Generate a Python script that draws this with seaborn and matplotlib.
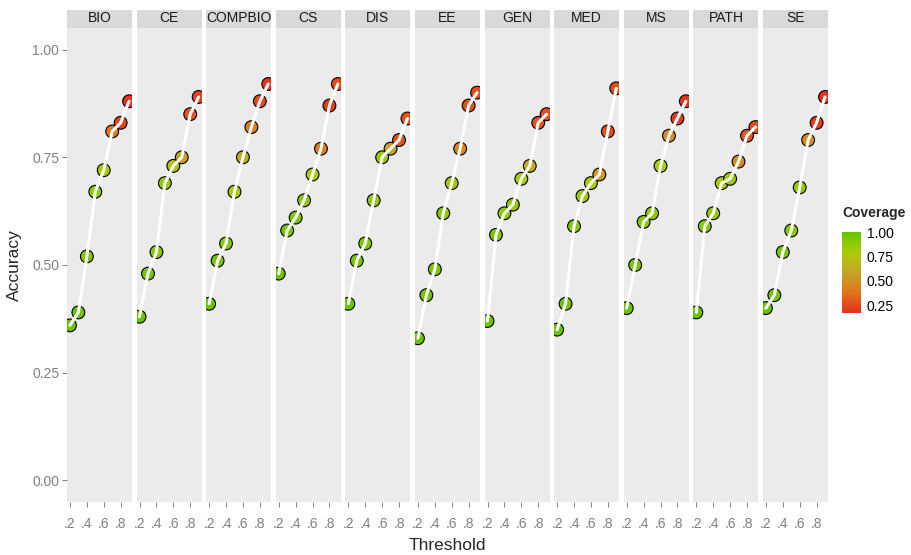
import numpy as np
import pandas as pd
import matplotlib as mpl
import matplotlib.pyplot as plt
import seaborn as sns
from matplotlib.colors import LinearSegmentedColormap, Normalize
from matplotlib.patches import Rectangle

domains = ["BIO", "CE", "COMPBIO", "CS", "DIS", "EE", "GEN", "MED", "MS", "PATH", "SE"]
thresholds = [0.2, 0.3, 0.4, 0.5, 0.6, 0.7, 0.8, 0.9]
x_ticks = [0.2, 0.4, 0.6, 0.8]
x_ticklabels = [".2", ".4", ".6", ".8"]
y_ticks = [0.0, 0.25, 0.5, 0.75, 1.0]
y_ticklabels = ["0.00", "0.25", "0.50", "0.75", "1.00"]

# accuracy / coverage per domain, one value per threshold
acc_bio = [0.36, 0.39, 0.52, 0.67, 0.72, 0.81, 0.83, 0.88]
cov_bio = [1.00, 0.98, 0.93, 0.87, 0.78, 0.40, 0.24, 0.17]
acc_ce = [0.38, 0.48, 0.53, 0.69, 0.73, 0.75, 0.85, 0.89]
cov_ce = [0.99, 0.95, 0.90, 0.86, 0.74, 0.55, 0.27, 0.23]
acc_compbio = [0.41, 0.51, 0.55, 0.67, 0.75, 0.82, 0.88, 0.92]
cov_compbio = [0.99, 0.95, 0.90, 0.78, 0.62, 0.42, 0.24, 0.18]
acc_cs = [0.48, 0.58, 0.61, 0.65, 0.71, 0.77, 0.87, 0.92]
cov_cs = [0.99, 0.96, 0.93, 0.88, 0.80, 0.42, 0.20, 0.25]
acc_dis = [0.41, 0.51, 0.55, 0.65, 0.75, 0.77, 0.79, 0.84]
cov_dis = [0.99, 0.95, 0.91, 0.87, 0.85, 0.58, 0.28, 0.28]
acc_ee = [0.33, 0.43, 0.49, 0.62, 0.69, 0.77, 0.87, 0.90]
cov_ee = [1.00, 0.97, 0.93, 0.88, 0.82, 0.45, 0.27, 0.25]
acc_gen = [0.37, 0.57, 0.62, 0.64, 0.70, 0.73, 0.83, 0.85]
cov_gen = [0.99, 0.93, 0.88, 0.86, 0.80, 0.62, 0.27, 0.25]
acc_med = [0.35, 0.41, 0.59, 0.66, 0.69, 0.71, 0.81, 0.91]
cov_med = [1.00, 0.97, 0.90, 0.84, 0.78, 0.55, 0.26, 0.26]
acc_ms = [0.40, 0.50, 0.60, 0.62, 0.73, 0.80, 0.84, 0.88]
cov_ms = [0.99, 0.95, 0.90, 0.87, 0.80, 0.50, 0.20, 0.18]
acc_path = [0.39, 0.59, 0.62, 0.69, 0.70, 0.74, 0.80, 0.82]
cov_path = [1.00, 0.90, 0.87, 0.80, 0.83, 0.47, 0.28, 0.26]
acc_se = [0.40, 0.43, 0.53, 0.58, 0.68, 0.79, 0.83, 0.89]
cov_se = [1.00, 0.97, 0.93, 0.90, 0.86, 0.48, 0.20, 0.17]

acc_all = [acc_bio, acc_ce, acc_compbio, acc_cs, acc_dis, acc_ee, acc_gen, acc_med, acc_ms, acc_path, acc_se]
cov_all = [cov_bio, cov_ce, cov_compbio, cov_cs, cov_dis, cov_ee, cov_gen, cov_med, cov_ms, cov_path, cov_se]

rows = []
for d, accs, covs in zip(domains, acc_all, cov_all):
    for t, a, c in zip(thresholds, accs, covs):
        rows.append({"Domain": d, "Threshold": t, "Accuracy": a, "Coverage": c})
df = pd.DataFrame(rows)

cmap = LinearSegmentedColormap.from_list(
    "cov", ["#E4301D", "#E2741A", "#C6A526", "#AACC0A", "#66C400"])
norm = Normalize(df["Coverage"].min(), df["Coverage"].max())

sns.set_style("dark", {"axes.facecolor": "#EBEBEB"})
plt.rcParams['font.family'] = ['Liberation Sans', 'DejaVu Sans']

W, H = 911, 555
g = sns.FacetGrid(df, col="Domain", col_order=domains, sharex=True, sharey=True,
                  height=5.55, aspect=9.11 / 5.55 / 11)


def draw(data, **kws):
    ax = plt.gca()
    sns.scatterplot(data=data, x="Threshold", y="Accuracy", hue="Coverage",
                    palette=cmap, hue_norm=norm, s=85, edgecolor="black",
                    linewidth=0.8, legend=False, ax=ax, zorder=2)
    sns.lineplot(data=data, x="Threshold", y="Accuracy", color="white",
                 lw=2.2, estimator=None, ax=ax, zorder=3)


g.map_dataframe(draw)

fig = g.figure
fig.set_size_inches(W / 100, H / 100)
fig.subplots_adjust(left=67 / W, right=828 / W, top=1 - 28 / H, bottom=1 - 502 / H, wspace=0.07)

panel_h = 474
for i, (ax, d) in enumerate(zip(g.axes.flat, domains)):
    ax.set_xlim(0.165, 0.935)
    ax.set_ylim(-0.05, 1.05)
    ax.set_title("")
    ax.set_xlabel("")
    ax.set_ylabel("")
    ax.grid(False)
    for s in ax.spines.values():
        s.set_visible(False)
    ax.set_xticks(x_ticks)
    ax.set_xticklabels(x_ticklabels)
    ax.set_yticks(y_ticks)
    ax.tick_params(axis="both", which="both", bottom=True, left=(i == 0),
                   length=3.5, width=0.7, color="#808080", labelcolor="#808080",
                   labelsize=10)
    ax.tick_params(axis="x", pad=7)
    ax.tick_params(axis="y", pad=2)
    if i == 0:
        ax.set_yticklabels(y_ticklabels)
    ax.add_patch(Rectangle((0, 1), 1, 18 / panel_h, transform=ax.transAxes,
                           clip_on=False, facecolor="#D9D9D9", edgecolor="none"))
    ax.text(0.5, 1 + 9.5 / panel_h, d, transform=ax.transAxes, ha="center",
            va="center", fontsize=10, color="#1A1A1A")

fig.text(447.5 / W, 1 - 546 / H, "Threshold", ha="center", va="center", fontsize=12.5)
fig.text(14 / W, 1 - 265 / H, "Accuracy", ha="center", va="center", fontsize=12.5,
         rotation=90)

# colour bar legend
cax = fig.add_axes([842 / W, 1 - 313 / H, 19 / W, 81 / H])
cb = fig.colorbar(mpl.cm.ScalarMappable(norm=norm, cmap=cmap), cax=cax)
cb.outline.set_visible(False)
cb.set_ticks([0.25, 0.5, 0.75, 1.0])
cb.set_ticklabels(["0.25", "0.50", "0.75", "1.00"])
cax.tick_params(left=True, right=True, direction="in", length=3.5, width=0.8,
                color="white", labelcolor="black", labelsize=10, pad=4)
fig.text(842 / W, 1 - 213 / H, "Coverage", ha="left", va="center", fontsize=10,
         fontweight="bold")

fig.savefig("out.png", dpi=100)
